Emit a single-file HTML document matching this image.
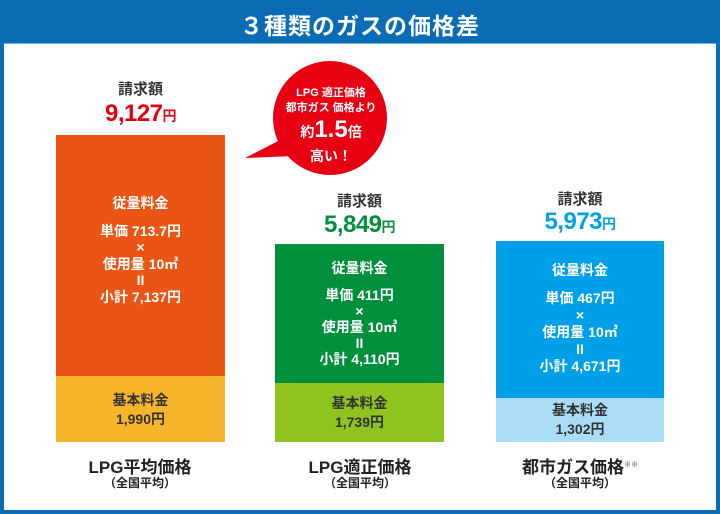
<!DOCTYPE html>
<html><head><meta charset="utf-8"><style>
*{margin:0;padding:0;box-sizing:border-box}
body{width:720px;height:514px;position:relative;overflow:hidden;background:#0a6cb5;font-family:"Liberation Sans","Noto Sans CJK JP",sans-serif;font-weight:bold;color:#333}
.in{position:absolute;left:4px;top:43px;width:712px;height:467px;background:#fff;border-top:1px solid #6aaee0}
.t{position:absolute;left:0;width:720px;top:7px;text-align:center;color:#fff;font-size:23px;letter-spacing:1px}
.a{position:absolute;text-align:center}
.bar{position:absolute;color:#fff;text-align:center;font-size:14px;line-height:16.5px}
.bar .h{display:block;margin-bottom:11px}
.lbl{font-size:15px;color:#333}
.amt{font-size:24px;letter-spacing:-0.5px}
.amt span{font-size:14px}
.cap{font-size:17px;color:#222}
.sub{font-size:12px;color:#222}
</style></head><body>
<div class="t">３種類のガスの価格差</div>
<div class="in"></div>

<div class="a lbl" style="left:56px;width:169px;top:78px">請求額</div>
<div class="a amt" style="left:56px;width:169px;top:100px;color:#e60012">9,127<span>円</span></div>
<div class="bar" style="left:56px;top:135px;width:169px;height:241px;background:#ea5414;padding-top:60px"><span class="h">従量料金</span>単価 713.7円<br>×<br>使用量 10㎥<br>II<br>小計 7,137円</div>
<div class="bar" style="left:56px;top:376px;width:169px;height:66px;background:#f7b52c;color:#333;padding-top:15px;line-height:19px">基本料金<br>1,990円</div>
<div class="a cap" style="left:40px;width:200px;top:453px">LPG平均価格</div>
<div class="a sub" style="left:40px;width:200px;top:474px">（全国平均）</div>

<svg style="position:absolute;left:240px;top:58px" width="160" height="125"><ellipse cx="90" cy="60" rx="57" ry="57" fill="#e60012"/><polygon points="5,100 48,78 55,98" fill="#e60012"/></svg>
<div class="a" style="left:272px;width:118px;top:86px;color:#fff;font-size:11px;line-height:15px">LPG 適正価格<br>都市ガス 価格より</div>
<div class="a" style="left:272px;width:118px;top:116px;color:#fff;font-size:14px">約<span style="font-size:24px">1.5</span>倍</div>
<div class="a" style="left:272px;width:118px;top:146px;color:#fff;font-size:14px">高い！</div>

<div class="a lbl" style="left:275px;width:169px;top:190px">請求額</div>
<div class="a amt" style="left:275px;width:169px;top:211px;color:#00903c">5,849<span>円</span></div>
<div class="bar" style="left:275px;top:244px;width:169px;height:139px;background:#00903c;padding-top:16px;line-height:16px"><span class="h">従量料金</span>単価 411円<br>×<br>使用量 10㎥<br>II<br>小計 4,110円</div>
<div class="bar" style="left:275px;top:383px;width:169px;height:59px;background:#8fc31f;color:#333;padding-top:11px;line-height:19px">基本料金<br>1,739円</div>
<div class="a cap" style="left:260px;width:200px;top:453px">LPG適正価格</div>
<div class="a sub" style="left:260px;width:200px;top:474px">（全国平均）</div>

<div class="a lbl" style="left:496px;width:168px;top:188px">請求額</div>
<div class="a amt" style="left:496px;width:168px;top:208px;color:#00a0e9">5,973<span>円</span></div>
<div class="bar" style="left:496px;top:241px;width:168px;height:157px;background:#00a0e9;padding-top:21px;line-height:17px"><span class="h">従量料金</span>単価 467円<br>×<br>使用量 10㎥<br>II<br>小計 4,671円</div>
<div class="bar" style="left:496px;top:398px;width:168px;height:44px;background:#abdcf6;color:#333;padding-top:3px;line-height:19px">基本料金<br>1,302円</div>
<div class="a cap" style="left:480px;width:200px;top:453px">都市ガス価格<sup style="font-size:7px">※※</sup></div>
<div class="a sub" style="left:480px;width:200px;top:474px">（全国平均）</div>
</body></html>
